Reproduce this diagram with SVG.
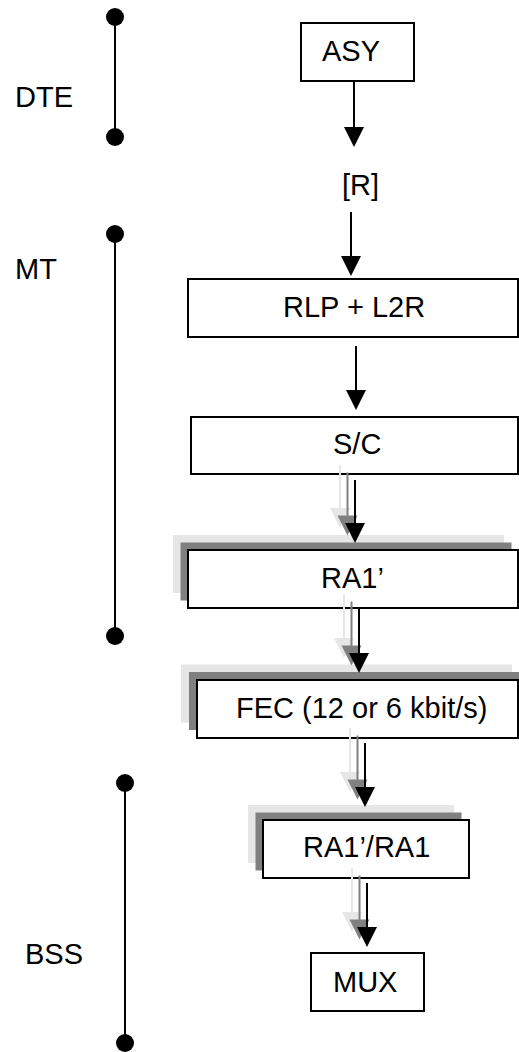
<svg xmlns="http://www.w3.org/2000/svg" width="519" height="1052" viewBox="0 0 519 1052">
<style>
text{font-family:"Liberation Sans",Arial,sans-serif;font-size:29px;fill:#000}
.box{fill:#fff;stroke:#000;stroke-width:2}
.sh1{fill:#e6e6e6}
.sh2{fill:#808080}
.ln{stroke:#000;stroke-width:2;fill:none}
.l1{stroke:#e6e6e6;stroke-width:2;fill:none}
.l2{stroke:#808080;stroke-width:2;fill:none}
.h0{fill:#000}
.h1{fill:#e6e6e6}
.h2{fill:#808080}
.bar{stroke:#000;stroke-width:2}
</style>
<rect width="519" height="1052" fill="#fff"/>
<g id="scales">
  <g id="scale-DTE">
    <line class="bar" x1="115" y1="17" x2="115" y2="137"/>
    <circle cx="115" cy="17" r="9"/><circle cx="115" cy="137" r="9"/>
    <text x="15" y="107">DTE</text>
  </g>
  <g id="scale-MT">
    <line class="bar" x1="115" y1="234" x2="115" y2="636"/>
    <circle cx="115" cy="234" r="9"/><circle cx="115" cy="636" r="9"/>
    <text x="15" y="279">MT</text>
  </g>
  <g id="scale-BSS">
    <line class="bar" x1="125" y1="783" x2="125" y2="1043"/>
    <circle cx="125" cy="783" r="9"/><circle cx="125" cy="1043" r="9"/>
    <text x="25" y="964">BSS</text>
  </g>
</g>
<g id="node-ASY">
  <rect class="box" x="301" y="23" width="113" height="58"/>
  <text x="322" y="61">ASY</text>
</g>
<g id="node-R">
  <text x="342" y="195">[R]</text>
</g>
<g id="node-RLP">
  <rect class="box" x="188" y="279" width="330" height="58"/>
  <text x="283" y="317">RLP + L2R</text>
</g>
<g id="node-SC">
  <rect class="box" x="191" y="417" width="327" height="57"/>
  <text x="333" y="454">S/C</text>
</g>
<g id="node-RA1p">
  <rect class="sh1" x="173" y="535" width="331" height="58"/>
  <rect class="sh2" x="180.5" y="542.5" width="331" height="58"/>
  <rect class="box" x="188" y="550" width="330" height="58"/>
  <text x="321" y="588">RA1’</text>
</g>
<g id="node-FEC">
  <rect class="sh1" x="181" y="664.5" width="331" height="58"/>
  <rect class="sh2" x="189" y="672" width="331" height="58"/>
  <rect class="box" x="197" y="680" width="321" height="58"/>
  <text x="236" y="718">FEC (12 or 6 kbit/s)</text>
</g>
<g id="node-RA1RA1">
  <rect class="sh1" x="248" y="805" width="206" height="58"/>
  <rect class="sh2" x="255.5" y="812.5" width="206" height="58"/>
  <rect class="box" x="263" y="820" width="206" height="58"/>
  <text x="303" y="857">RA1’/RA1</text>
</g>
<g id="node-MUX">
  <rect class="box" x="311" y="953" width="113" height="58"/>
  <text x="333" y="992">MUX</text>
</g>
<g id="connectors">
  <line class="ln" x1="354" y1="81" x2="354" y2="128"/>
  <polygon class="h0" points="344,127 364,127 354,147"/>
  <line class="ln" x1="351" y1="212" x2="351" y2="257"/>
  <polygon class="h0" points="341,256 361,256 351,276"/>
  <line class="ln" x1="356" y1="346" x2="356" y2="391"/>
  <polygon class="h0" points="346,390 366,390 356,410"/>

  <line class="l1" x1="340" y1="465" x2="340" y2="509"/>
  <polygon class="h1" points="330,508 350,508 340,528"/>
  <line class="l2" x1="347.5" y1="472.5" x2="347.5" y2="516"/>
  <polygon class="h2" points="337.5,515.5 357.5,515.5 347.5,535.5"/>
  <line class="ln" x1="355" y1="480" x2="355" y2="524"/>
  <polygon class="h0" points="345,523 365,523 355,543"/>

  <line class="l1" x1="344" y1="594" x2="344" y2="639"/>
  <polygon class="h1" points="334,638 354,638 344,658"/>
  <line class="l2" x1="351.5" y1="601.5" x2="351.5" y2="646"/>
  <polygon class="h2" points="341.5,645.5 361.5,645.5 351.5,665.5"/>
  <line class="ln" x1="359" y1="609" x2="359" y2="654"/>
  <polygon class="h0" points="349,653 369,653 359,673"/>

  <line class="l1" x1="350" y1="728" x2="350" y2="773"/>
  <polygon class="h1" points="340,772 360,772 350,792"/>
  <line class="l2" x1="357.5" y1="735.5" x2="357.5" y2="780"/>
  <polygon class="h2" points="347.5,779.5 367.5,779.5 357.5,799.5"/>
  <line class="ln" x1="365" y1="743" x2="365" y2="788"/>
  <polygon class="h0" points="355,787 375,787 365,807"/>

  <line class="l1" x1="352" y1="868" x2="352" y2="913"/>
  <polygon class="h1" points="342,912 362,912 352,932"/>
  <line class="l2" x1="359.5" y1="875.5" x2="359.5" y2="920"/>
  <polygon class="h2" points="349.5,919.5 369.5,919.5 359.5,939.5"/>
  <line class="ln" x1="367" y1="883" x2="367" y2="928"/>
  <polygon class="h0" points="357,927 377,927 367,947"/>
</g>
</svg>
